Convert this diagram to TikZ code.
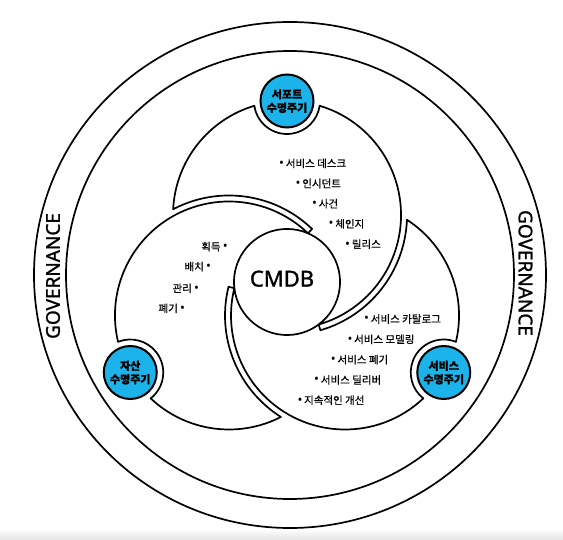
\documentclass[tikz,border=0pt]{standalone}
\usepackage{fontspec}
\setmainfont{Noto Sans CJK KR}[FakeBold=0.6]
\newfontfamily\cjkbold{Noto Sans CJK KR}[FakeBold=1.2]
\newfontfamily\latin{Noto Sans}
\newfontfamily\latinm{Noto Sans}[FakeBold=1.3]
\definecolor{lcblue}{HTML}{1BB3E9}
\tikzset{
  lobe/.style={fill=white, draw=black, line width=1.7pt, line join=round},
  lcircle/.style={circle, fill=lcblue, draw=black, line width=2pt, minimum size=53pt, inner sep=0pt,
                  font=\cjkbold\bfseries\fontsize{11}{13.5}\selectfont, align=center},
  item/.style={font=\fontsize{10.5}{12}\selectfont, inner sep=0pt},
  ring/.style={draw=black, line width=1.7pt},
  gov/.style={font=\latinm\fontsize{19}{19}\selectfont, inner sep=0pt}
}
\newcommand\bul{{\latin\bfseries\fontsize{13}{13}\selectfont •}}
\begin{document}
\begin{tikzpicture}[x=1pt, y=1pt]
\useasboundingbox (0,0) rectangle (563,539);
\shade[top color=white, bottom color=black!10] (0,0) rectangle (563,10);
\coordinate (RC) at (290,264);
\draw[ring] (RC) ellipse[x radius=256, y radius=253];
\draw[ring] (RC) ellipse[x radius=224, y radius=224];
% governance labels
\node[gov, rotate=90] (govl) at (53,263) {GOVERNANCE};
\node[gov, rotate=-90] (govr) at (525.5,266) {GOVERNANCE};
% three lobes
\begin{scope}[shift={(287,257)}]
\foreach \r in {0,120,240}{
  \begin{scope}[rotate=\r]
    \path[lobe] (-113.85,72.77) arc[start angle=177.1, end angle=106.64, radius=114]
      arc[start angle=188.3, end angle=351.7, radius=33]
      arc[start angle=73.36, end angle=-73.86, radius=114]
      arc[start angle=-53.3, end angle=66.7, radius=53]
      -- (25.09,53.06)
      arc[start angle=46.15, end angle=117.75, radius=120]
      -- cycle;
  \end{scope}
}
\end{scope}
% lifecycle circles
\node[lcircle] (support) at (287,438) {서포트\\수명주기};
\node[lcircle] (asset) at (130.25,166.5) {자산\\수명주기};
\node[lcircle] (service) at (443.75,166.5) {서비스\\수명주기};
% centre
\node[font=\latinm\fontsize{22}{26}\selectfont] (cmdb) at (282,260.3) {CMDB};
% support items
\node[item, anchor=west] (s1) at (279,375.7) {\bul\,서비스 데스크};
\node[item, anchor=west] (s2) at (295.5,355.5) {\bul\,인시던트};
\node[item, anchor=west] (s3) at (312,335.3) {\bul\,사건};
\node[item, anchor=west] (s4) at (328.5,315.1) {\bul\,체인지};
\node[item, anchor=west] (s5) at (345,294.9) {\bul\,릴리스};
% asset items
\node[item, anchor=east] (a1) at (228,292.3) {획득 \bul};
\node[item, anchor=east] (a2) at (211.3,272.3) {배치 \bul};
\node[item, anchor=east] (a3) at (199.3,250.7) {관리 \bul};
\node[item, anchor=east] (a4) at (185.3,230.7) {폐기 \bul};
% service items
\node[item, anchor=west] (v1) at (364,220) {\bul\,서비스 카탈로그};
\node[item, anchor=west] (v2) at (347.3,199.7) {\bul\,서비스 모델링};
\node[item, anchor=west] (v3) at (330.7,179.4) {\bul\,서비스 폐기};
\node[item, anchor=west] (v4) at (314,159.1) {\bul\,서비스 딜리버};
\node[item, anchor=west] (v5) at (297.3,138.8) {\bul\,지속적인 개선};
\end{tikzpicture}
\end{document}
